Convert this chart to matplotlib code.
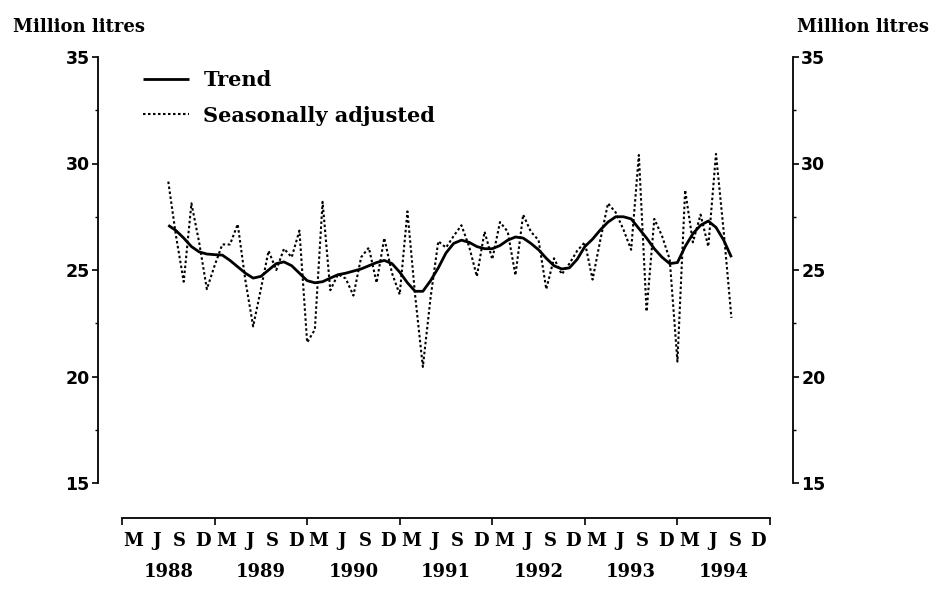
import matplotlib
matplotlib.use('Agg')
import matplotlib.pyplot as plt
import numpy as np
import matplotlib.transforms as mtransforms

# ---- data (monthly, July 1988 - August 1994) ----
start_year = 1988
start_month = 7
seasonally_adjusted = [
    29.15, 26.6, 24.45, 28.13, 26.3, 24.1, 25.2, 26.2, 26.2, 27.15,
    24.5, 22.35, 24.1, 25.9, 25.0, 26.0, 25.6, 26.85, 21.6, 22.2,
    28.2, 24.05, 24.8, 24.6, 23.8, 25.6, 26.05, 24.4, 26.5, 24.85,
    23.85, 27.75, 23.8, 20.45, 23.7, 26.35, 26.05, 26.6, 27.1, 26.1,
    24.7, 26.8, 25.5, 27.25, 26.8, 24.75, 27.6, 26.8, 26.4, 24.1,
    25.55, 24.8, 25.3, 25.9, 26.3, 24.55, 26.4, 28.13, 27.7, 26.9,
    25.95, 30.4, 23.05, 27.4, 26.6, 25.5, 20.7, 28.75, 26.3, 27.6,
    26.1, 30.45, 26.8, 22.75,
]
trend = [
    27.1, 26.85, 26.5, 26.1, 25.85, 25.75, 25.72, 25.7, 25.45, 25.15,
    24.85, 24.62, 24.7, 25.0, 25.3, 25.38, 25.2, 24.85, 24.5, 24.4,
    24.45, 24.62, 24.78, 24.85, 24.95, 25.05, 25.2, 25.35, 25.45, 25.3,
    24.9, 24.4, 24.0, 24.0, 24.5, 25.1, 25.8, 26.25, 26.4, 26.3,
    26.1, 26.0, 26.0, 26.15, 26.4, 26.55, 26.5, 26.25, 25.95, 25.55,
    25.2, 25.05, 25.1, 25.5, 26.1, 26.45, 26.88, 27.25, 27.5, 27.5,
    27.4, 26.95, 26.5, 26.0, 25.6, 25.3, 25.35, 26.1, 26.7, 27.1,
    27.3, 27.0, 26.4, 25.6,
]
years = [1988, 1989, 1990, 1991, 1992, 1993, 1994]
quarter_labels = ['M', 'J', 'S', 'D']
y_ticks = [15, 20, 25, 30, 35]
unit_label = 'Million litres'
series_names = ['Trend', 'Seasonally adjusted']

x = np.array([start_year + (start_month - 1 + i) / 12.0
              for i in range(len(seasonally_adjusted))])

W, H = 932, 590
fig = plt.figure(figsize=(W / 100, H / 100), dpi=100)

# axes box: left spine at x=98px, right spine at x=793px, 35 at y=57px, 15 at y=483px
ax_l, ax_r, ax_t, ax_b = 98, 793, 57, 483
ax = fig.add_axes([ax_l / W, 1 - ax_b / H, (ax_r - ax_l) / W, (ax_b - ax_t) / H])

# x scale: 1988.0 at 122px, 1995.0 at 770px
px0, px1 = 122, 770
ppy = (px1 - px0) / 7.0
ax.set_xlim(1988 - (px0 - ax_l) / ppy, 1995 + (ax_r - px1) / ppy)
ax.set_ylim(15, 35)

serif = 'DejaVu Serif'

ln_t, = ax.plot(x, trend, color='black', lw=2.0, solid_capstyle='butt',
                label=series_names[0])
ln_s, = ax.plot(x, seasonally_adjusted, color='black', lw=1.5,
                linestyle=(0, (1.2, 1.2)), label=series_names[1])

# spines
ax.spines['top'].set_visible(False)
for s in ('left', 'right'):
    ax.spines[s].set_linewidth(1.3)
ax.spines['bottom'].set_linewidth(1.3)
ax.spines['bottom'].set_position(('outward', 35 * 0.72))
ax.spines['bottom'].set_bounds(1988, 1995)

# y ticks on both sides
ax.set_yticks(y_ticks)
ax.set_yticks([17.5, 22.5, 27.5, 32.5], minor=True)
ax.tick_params(axis='y', which='major', direction='out', length=4, width=1.2,
               left=True, right=True, labelleft=True, labelright=True,
               labelsize=12.5, pad=2)
ax.tick_params(axis='y', which='minor', direction='out', length=2, width=1,
               left=True, right=True)
for lab in ax.get_yticklabels():
    lab.set_fontweight('bold')
    lab.set_family('DejaVu Sans')

# x ticks: year boundaries (major), quarter labels (minor)
ax.set_xticks(list(range(1988, 1996)))
ax.set_xticklabels([])
qpos = [yr + (2 * k + 1) / 8.0 for yr in years for k in range(4)]
qlab = [quarter_labels[k] for yr in years for k in range(4)]
ax.set_xticks(qpos, minor=True)
ax.set_xticklabels(qlab, minor=True)
ax.tick_params(axis='x', which='major', direction='out', length=5, width=1.2)
ax.tick_params(axis='x', which='minor', length=0, pad=10, labelsize=13)
for lab in ax.get_xticklabels(minor=True):
    lab.set_fontweight('bold')
    lab.set_family(serif)

trans = mtransforms.blended_transform_factory(ax.transData, ax.transAxes)
for yr in years:
    ax.text(yr + 0.5, (ax_b - 572) / (ax_b - ax_t), str(yr), transform=trans,
            ha='center', va='center', fontsize=13, fontweight='bold',
            family=serif)

# unit labels
fig.text(13 / W, 1 - 27 / H, unit_label, ha='left', va='center',
         fontsize=13, fontweight='bold', family=serif)
fig.text(929 / W, 1 - 27 / H, unit_label, ha='right', va='center',
         fontsize=13, fontweight='bold', family=serif)

leg = ax.legend(handles=[ln_t, ln_s], loc='upper left',
                bbox_to_anchor=(143 / W, 1 - 70 / H),
                bbox_transform=fig.transFigure, frameon=False,
                borderpad=0, borderaxespad=0, handlelength=2.2,
                handletextpad=0.7, labelspacing=0.75,
                prop={'family': serif, 'weight': 'bold', 'size': 15})

fig.savefig('out.png', dpi=100)
